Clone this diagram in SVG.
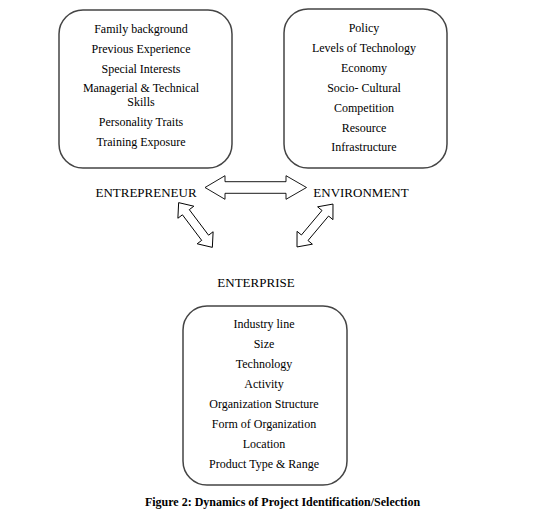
<svg xmlns="http://www.w3.org/2000/svg" width="536" height="514" viewBox="0 0 536 514">
<style>
.box{fill:#fff;stroke:#444;stroke-width:1.5}
.t{font-family:"Liberation Serif","Times New Roman",serif;font-size:12px;fill:#000;text-anchor:middle}
.lbl{font-family:"Liberation Serif","Times New Roman",serif;font-size:13px;fill:#000;text-anchor:middle}
.cap{font-family:"Liberation Serif","Times New Roman",serif;font-size:12px;font-weight:bold;fill:#000;text-anchor:middle}
.arr{fill:#fff;stroke:#000;stroke-width:0.9;stroke-linejoin:miter}
</style>
<defs>
<path id="dbl" d="M-28,0 L-16,-10 L-16,-4.3 L16,-4.3 L16,-10 L28,0 L16,10 L16,4.3 L-16,4.3 L-16,10 Z"/>
</defs>
<rect width="536" height="514" fill="#fff"/>
<g id="entrepreneur-box">
<rect class="box" x="59" y="10" width="173" height="158" rx="24" ry="24"/>
<text class="t" x="141" y="33">Family background</text>
<text class="t" x="141" y="53">Previous Experience</text>
<text class="t" x="141" y="73">Special Interests</text>
<text class="t" x="141" y="92">Managerial &amp; Technical</text>
<text class="t" x="141" y="106">Skills</text>
<text class="t" x="141" y="126">Personality Traits</text>
<text class="t" x="141" y="146">Training Exposure</text>
</g>
<g id="environment-box">
<rect class="box" x="284" y="9" width="163" height="159" rx="24" ry="24"/>
<text class="t" x="364" y="32">Policy</text>
<text class="t" x="364" y="52">Levels of Technology</text>
<text class="t" x="364" y="72">Economy</text>
<text class="t" x="364" y="92">Socio- Cultural</text>
<text class="t" x="364" y="112">Competition</text>
<text class="t" x="364" y="132">Resource</text>
<text class="t" x="364" y="151">Infrastructure</text>
</g>
<g id="enterprise-box">
<rect class="box" x="183" y="306" width="164" height="179" rx="24" ry="24"/>
<text class="t" x="264" y="328">Industry line</text>
<text class="t" x="264" y="348">Size</text>
<text class="t" x="264" y="368">Technology</text>
<text class="t" x="264" y="388">Activity</text>
<text class="t" x="264" y="408">Organization Structure</text>
<text class="t" x="264" y="428">Form of Organization</text>
<text class="t" x="264" y="448">Location</text>
<text class="t" x="264" y="468">Product Type &amp; Range</text>
</g>
<g id="entrepreneur">
<text class="lbl" x="146" y="197">ENTREPRENEUR</text>
</g>
<g id="environment">
<text class="lbl" x="361" y="197">ENVIRONMENT</text>
</g>
<g id="enterprise">
<text class="lbl" x="256" y="287">ENTERPRISE</text>
</g>
<g id="connectors">
<path class="arr" d="M205,187.5 L225,175.7 L225,181.7 L286,181.7 L286,175.7 L306.5,187.5 L286,199.3 L286,193.3 L225,193.3 L225,199.3 Z"/>
<use class="arr" href="#dbl" transform="translate(195.5,225) rotate(53)"/>
<use class="arr" href="#dbl" transform="translate(315,225.5) rotate(-50)"/>
</g>
<text class="cap" x="282.5" y="506">Figure 2: Dynamics of Project Identification/Selection</text>
</svg>
